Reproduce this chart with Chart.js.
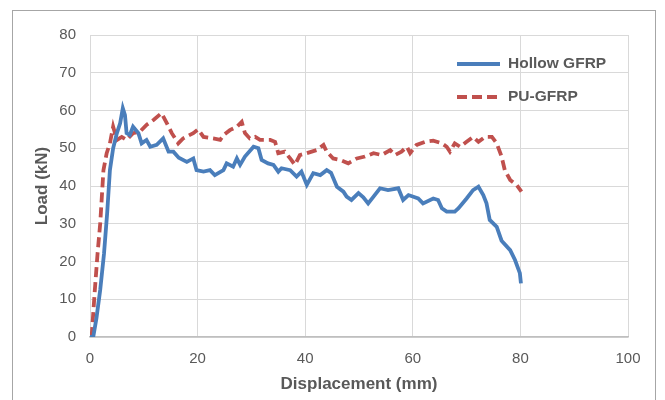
<!DOCTYPE html>
<html>
<head>
<meta charset="utf-8">
<script src="https://cdn.jsdelivr.net/npm/chart.js@4/dist/chart.umd.min.js"></script>
<style>
  body { margin: 0; background: #fff; }
  #wrap { position: relative; width: 665px; height: 400px; }
  #frame { position: absolute; left: 12px; top: 10px; width: 644px; height: 400px; border: 1px solid #a6a6a6; box-sizing: border-box; }
  canvas { position: absolute; left: 0; top: 0; }
</style>
</head>
<body>
<div id="wrap">
  <div id="frame"></div>
  <canvas id="chart" width="665" height="400"></canvas>
</div>
<script>
// Load-displacement curves
const hollowX = [0, 0.6, 1.2, 1.9, 2.6, 3.2, 3.7, 4.3, 5.0, 5.6, 6.1, 6.5, 6.8, 7.4, 8.0, 9.0, 9.6, 10.5, 11.2, 12.4,
  13.6, 14.6, 15.5, 16.5, 18.0, 19.2, 19.8, 21.1, 22.3, 23.2, 24.8, 25.4, 26.6, 27.3, 27.9, 28.8, 30.4, 31.3, 31.9, 33.1,
  34.1, 35.0, 35.6, 37.2, 38.4, 39.3, 40.3, 41.5, 42.8, 44.0, 44.8, 45.9, 47.1, 47.7, 48.6, 49.9, 50.8, 51.7, 52.7, 53.9,
  55.4, 57.3, 58.2, 59.2, 61.0, 61.9, 63.8, 64.7, 65.4, 66.3, 67.8, 68.5, 70.0, 71.2, 72.2, 73.1, 73.7, 74.3, 75.6, 76.5,
  78.1, 79.0, 79.9, 80.1];
const hollowY = [0, 0, 5, 12.5, 22, 33, 44.2, 50, 54, 56.6, 60.6, 58.8, 54, 53.5, 55.7, 54, 51.3, 52.2, 50.4, 50.9,
  52.6, 49.1, 49.1, 47.5, 46.4, 47.3, 44.2, 43.8, 44.2, 42.9, 44.2, 46, 45.1, 47.3, 45.6, 47.8, 50.4, 50, 46.9, 46,
  45.6, 43.8, 44.7, 44.2, 42.5, 43.8, 40.3, 43.4, 42.9, 44.2, 43.5, 39.8, 38.5, 37.2, 36.3, 38.1, 37, 35.4, 37.2, 39.4,
  38.9, 39.4, 36.3, 37.6, 36.7, 35.4, 36.7, 36.3, 34.1, 33.2, 33.2, 34.1, 36.7, 38.9, 39.8, 37.6, 35.4, 31, 29.2, 25.5,
  23, 20.4, 16.9, 14.2];

const puX = [0.3, 0.9, 1.4, 1.9, 2.5, 3.1, 3.7, 4.3, 5.0, 5.9, 6.8, 8.0, 9.3, 10.5, 11.8, 13.3, 14.3, 15.2, 16.4, 17.3,
  19.2, 20.1, 21.1, 22.9, 24.2, 24.8, 26.0, 27.3, 28.2, 28.8, 29.7, 30.7, 31.6, 33.5, 34.4, 35.0, 36.2, 37.2, 38.1, 39.0,
  40.3, 42.1, 43.4, 44.0, 45.2, 46.5, 48.0, 49.6, 51.1, 52.7, 54.2, 55.8, 56.7, 57.9, 58.9, 59.5, 60.7, 62.3, 63.8, 65.4,
  66.3, 66.9, 67.8, 68.8, 70.0, 71.2, 72.2, 73.4, 74.7, 75.6, 76.5, 77.1, 78.1, 79.3, 80.2];
const puY = [0, 12.5, 22, 30.1, 44.2, 48.7, 51.3, 55.7, 52.2, 53, 52.2, 54, 54.4, 56.2, 57.5, 59.3, 56.6, 54, 51.3, 52.6,
  54, 55, 53, 52.6, 52.2, 53.5, 54.8, 55.7, 57, 54, 52.6, 53, 52.2, 52.2, 51.7, 48.7, 49.1, 47.3, 45.6, 48.2,
  48.7, 49.5, 50.9, 49.1, 47.3, 46.9, 46, 47.3, 47.8, 48.7, 48.2, 49.5, 48.2, 49.1, 50.4, 48.7, 50.9, 51.7, 52, 51.3,
  50.4, 49.1, 51.3, 50.4, 51.7, 53, 51.7, 53, 53, 51.3, 47.8, 44.2, 41.6, 40.3, 38.5];

const xTicks = [0, 20, 40, 60, 80, 100];
const yTicks = [0, 10, 20, 30, 40, 50, 60, 70, 80];

const toPoints = (xs, ys) => xs.map((x, i) => ({ x: x, y: ys[i] }));
const textColor = '#595959';
const family = '"Liberation Sans", Arial, sans-serif';

// legend drawn inside the plot, Excel style
const insideLegend = {
  id: 'insideLegend',
  afterDraw(chart) {
    const ctx = chart.ctx;
    const rows = [64, 97];
    ctx.save();
    chart.data.datasets.forEach((ds, i) => {
      const y = rows[i];
      ctx.beginPath();
      ctx.strokeStyle = ds.borderColor;
      ctx.lineWidth = ds.borderWidth;
      ctx.setLineDash(ds.borderDash || []);
      ctx.moveTo(457, y);
      ctx.lineTo(500, y);
      ctx.stroke();
      ctx.setLineDash([]);
      ctx.fillStyle = textColor;
      ctx.font = 'bold 15.5px ' + family;
      ctx.textBaseline = 'middle';
      ctx.fillText(ds.label, 508, y);
    });
    ctx.restore();
  }
};

new Chart(document.getElementById('chart'), {
  type: 'line',
  data: {
    datasets: [
      {
        label: 'Hollow GFRP',
        data: toPoints(hollowX, hollowY),
        borderColor: '#4a7ebb',
        borderWidth: 3.8,
        pointRadius: 0,
        tension: 0
      },
      {
        label: 'PU-GFRP',
        data: toPoints(puX, puY),
        borderColor: '#c0504d',
        borderWidth: 3.8,
        borderDash: [10, 5],
        pointRadius: 0,
        tension: 0
      }
    ]
  },
  options: {
    responsive: false,
    animation: false,
    devicePixelRatio: 1,
    layout: { padding: { left: 0, right: 37, top: 35, bottom: 0 } },
    plugins: { legend: { display: false }, tooltip: { enabled: false } },
    scales: {
      x: {
        type: 'linear',
        min: 0,
        max: 100,
        afterFit(scale) { scale.height = 63; },
        afterBuildTicks(scale) { scale.ticks = xTicks.map(v => ({ value: v })); },
        grid: { color: '#d9d9d9', lineWidth: 1, drawTicks: false },
        border: { color: '#bfbfbf', width: 1.5 },
        ticks: { color: textColor, padding: 13, font: { family: family, size: 15 } },
        title: {
          display: true,
          text: 'Displacement (mm)',
          color: textColor,
          padding: { top: 0, bottom: 5 },
          font: { family: family, size: 17, weight: 'bold' }
        }
      },
      y: {
        type: 'linear',
        min: 0,
        max: 80,
        afterFit(scale) { scale.width = 90; },
        afterBuildTicks(scale) { scale.ticks = yTicks.map(v => ({ value: v })); },
        grid: { color: '#d9d9d9', lineWidth: 1, drawTicks: false },
        border: { display: false },
        ticks: { color: textColor, padding: 14, font: { family: family, size: 15 } },
        title: {
          display: true,
          text: 'Load (kN)',
          color: textColor,
          padding: { top: 32, bottom: 0 },
          font: { family: family, size: 17, weight: 'bold' }
        }
      }
    }
  },
  plugins: [insideLegend]
});
</script>
</body>
</html>
